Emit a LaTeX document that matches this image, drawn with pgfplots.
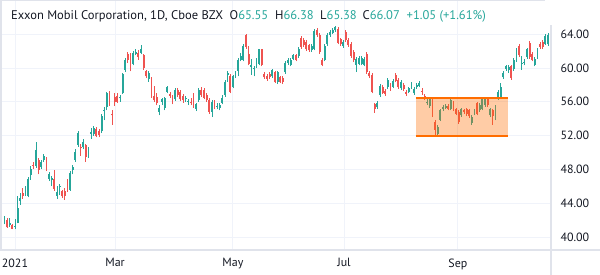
\documentclass[border=0pt]{standalone}
\usepackage{pgfplots}
\usepackage{pgfplotstable}
\pgfplotsset{compat=1.18}
\usepackage{fontspec}
\setmainfont{PT Sans}
\definecolor{upc}{HTML}{26A69A}
\definecolor{dnc}{HTML}{EF5350}
\definecolor{gridc}{HTML}{F0F3FA}
\definecolor{framec}{HTML}{E0E3EB}
\definecolor{txt}{HTML}{131722}
\definecolor{rectc}{HTML}{FF6D00}
% up (green) candles: index open high low close
\pgfplotstableread{
i o h l c
-4 41.6 42.5 41.5 41.8
-2 41.4 42.3 41.2 41.6
0 41.2 42.1 40.9 41.35
1 41.7 44.8 41.6 43.4
2 44.3 45.2 43.8 44.6
4 45.1 46.0 44.8 45.4
5 44.9 47.1 44.7 46.9
6 47.3 48.4 46.8 48.0
8 48.4 51.2 48.2 50.3
10 48.3 49.1 48.0 48.9
11 49.1 49.8 48.9 49.6
13 46.9 47.7 46.6 47.5
14 46.8 47.2 46.0 46.95
16 44.9 46.0 44.5 45.3
17 45.9 46.3 45.0 46.05
21 45.6 47.8 45.5 47.6
22 47.9 48.5 47.4 48.3
23 49.1 50.4 48.9 50.0
24 50.9 52.5 50.7 52.3
26 50.6 51.6 50.4 51.2
28 49.5 50.7 49.4 50.5
29 52.2 52.9 51.6 52.4
30 52.2 53.1 52.0 52.9
33 52.5 54.5 52.3 54.3
34 54.9 55.4 53.8 55.05
35 55.4 57.2 55.0 57.0
40 56.4 56.8 56.0 56.55
41 57.1 59.4 56.9 59.3
42 59.8 61.2 59.5 61.0
45 60.5 62.0 60.3 61.8
46 61.7 62.3 61.5 61.9
48 61.8 62.7 61.6 62.3
51 58.7 59.6 58.4 59.4
55 54.8 55.6 54.4 55.3
56 56.0 56.5 55.6 56.3
57 55.3 56.6 55.0 56.4
58 57.2 57.9 57.0 57.7
61 56.3 57.6 56.1 57.4
65 56.3 56.7 56.0 56.5
66 55.95 56.3 55.6 56.05
69 55.2 55.9 54.9 55.7
70 56.2 57.6 56.0 57.4
75 54.8 56.2 54.2 56.0
77 55.45 55.9 55.1 55.55
78 55.3 55.9 55.0 55.6
79 55.9 56.8 55.7 56.5
80 56.8 58.6 56.6 58.4
81 59.2 59.6 58.4 59.4
83 57.8 59.2 57.6 59.0
84 59.0 59.7 58.8 59.3
85 59.7 61.2 59.0 61.0
86 61.0 61.8 60.8 61.4
87 61.0 62.8 60.8 62.6
90 60.1 61.1 59.2 60.3
91 59.85 60.2 59.0 59.95
92 60.2 61.2 60.0 60.9
93 60.5 62.3 60.3 62.2
98 59.0 59.9 58.8 59.8
100 58.3 59.7 58.1 59.5
103 59.5 60.8 59.3 60.6
104 60.6 61.2 60.4 61.0
105 60.4 61.2 60.2 61.0
106 61.1 61.7 60.9 61.5
108 61.4 62.5 61.2 62.3
113 62.1 62.8 61.9 62.6
114 62.3 64.6 62.1 64.4
118 61.0 62.8 60.8 62.6
119 62.8 64.1 62.6 63.9
120 63.9 64.5 63.7 64.3
121 64.2 64.7 64.0 64.5
122 64.5 65.0 64.3 64.8
125 62.6 63.3 62.4 63.1
130 60.4 61.3 59.5 61.1
131 60.5 61.4 60.3 61.2
132 60.5 61.4 60.3 61.2
133 60.4 61.3 60.2 61.1
138 55.4 56.1 55.2 55.9
139 56.8 58.1 56.6 57.9
142 57.7 58.8 57.5 58.6
144 57.8 58.7 57.6 58.5
147 57.6 58.6 57.4 58.4
150 57.2 57.8 57.0 57.6
151 57.7 58.4 57.5 58.1
152 57.0 57.7 56.8 57.5
153 57.7 58.2 57.5 58.0
154 57.9 58.5 57.7 58.2
157 55.8 56.5 55.6 56.0
158 55.5 56.6 55.3 56.3
161 52.2 53.2 52.0 53.0
162 53.9 55.2 53.7 55.0
163 55.1 55.6 54.9 55.4
164 55.3 55.7 55.1 55.5
166 55.2 56.4 55.0 56.2
170 54.4 55.3 54.2 55.1
174 53.5 54.4 53.3 54.2
175 54.6 55.2 54.4 55.0
177 55.0 55.8 54.8 55.6
178 55.2 56.6 55.0 56.4
179 55.6 56.5 55.4 56.3
181 54.4 55.3 54.2 55.1
183 54.2 55.6 53.8 55.4
184 56.4 57.4 56.2 57.2
185 56.6 58.2 56.4 57.8
186 58.9 59.6 58.7 59.4
187 59.9 60.4 59.7 60.2
188 59.8 60.4 59.4 60.1
190 59.9 61.2 59.7 61.0
191 60.9 62.4 60.7 62.2
193 60.55 61.4 59.8 60.65
194 60.65 61.1 60.3 60.75
195 61.3 62.4 61.1 62.2
198 60.4 61.3 60.2 61.1
199 61.3 62.4 61.1 62.2
202 62.9 64.0 62.7 63.8
203 62.8 64.1 62.6 63.9
}\upcandles
% down (red) candles: index open high low close
\pgfplotstableread{
i o h l c
-3 42.0 42.3 41.1 41.15
-1 41.4 41.5 40.9 41.0
3 45.2 45.8 44.5 44.9
7 48.5 48.9 48.0 48.4
9 49.1 49.3 47.4 47.9
12 49.4 49.5 47.8 47.9
15 46.9 47.9 45.5 45.7
18 45.5 45.6 44.6 44.8
19 45.5 45.8 44.4 44.8
20 45.8 46.9 45.3 45.5
25 50.7 51.0 49.6 50.6
27 50.9 51.0 48.9 49.5
31 52.8 53.0 51.8 52.0
32 52.6 52.8 51.8 52.1
36 57.1 57.3 55.5 55.7
37 54.5 55.0 53.3 54.4
38 56.6 57.0 55.5 56.0
39 56.7 57.0 55.9 56.0
43 61.7 61.9 60.6 60.9
44 61.7 61.8 59.6 60.0
47 61.8 62.1 61.0 61.3
49 61.5 61.7 59.8 60.0
50 59.6 59.8 58.8 59.0
52 58.7 58.9 56.5 56.7
53 56.7 57.9 56.0 56.2
54 56.6 57.0 55.6 55.9
59 56.9 57.2 56.4 56.7
60 56.5 56.8 55.7 55.9
62 57.4 57.6 56.6 56.8
63 57.2 57.4 56.1 56.3
64 56.7 56.9 55.9 56.2
67 56.0 56.4 55.6 55.8
68 56.8 57.0 55.3 55.5
71 57.4 57.7 56.6 56.8
72 57.4 57.6 56.3 56.5
73 56.8 57.0 56.0 56.2
74 56.2 56.4 54.6 54.8
76 56.0 56.2 55.1 55.3
82 59.0 59.3 57.0 57.2
88 63.9 64.0 62.3 62.5
89 61.7 62.6 60.3 60.5
94 62.2 62.3 60.2 60.4
95 59.3 59.5 58.7 58.9
96 59.0 59.3 58.5 58.7
97 59.3 59.5 58.7 58.9
99 59.5 59.7 58.2 58.3
101 58.9 59.1 58.2 58.3
102 58.8 59.0 58.1 58.3
107 61.5 61.7 60.8 61.0
109 63.5 63.8 62.3 62.5
110 63.3 63.5 62.5 62.7
111 63.1 63.3 62.0 62.2
112 62.7 62.9 61.9 62.1
115 64.5 64.7 63.7 63.9
116 63.9 64.1 61.7 61.9
117 61.0 61.2 60.2 60.4
123 64.6 64.8 62.8 63.0
124 63.4 63.6 62.6 62.8
126 64.3 64.5 63.1 63.3
127 63.3 63.5 62.5 62.7
128 62.9 63.1 61.2 61.4
129 61.9 62.1 60.7 60.9
134 61.7 61.9 59.3 59.5
135 59.4 59.6 58.8 59.0
136 59.2 59.4 57.0 57.2
137 55.7 55.9 54.7 55.1
140 57.8 58.0 56.9 57.1
141 57.3 57.5 56.7 56.9
143 58.0 58.2 57.3 57.5
145 59.2 59.4 58.3 58.5
146 58.6 58.8 57.5 57.7
148 58.0 58.2 57.3 57.5
149 57.2 57.4 56.7 56.9
155 57.25 57.6 56.8 57.15
156 56.7 56.9 56.2 56.4
159 56.1 56.3 54.2 54.4
160 53.6 53.8 52.0 52.7
165 55.5 55.7 55.0 55.2
167 55.9 56.1 54.9 55.1
168 55.1 55.3 54.4 54.6
169 54.8 55.0 53.4 53.6
171 55.0 55.2 54.6 54.8
172 55.1 55.3 54.3 54.5
173 55.0 55.2 54.1 54.3
176 55.8 56.0 54.4 54.6
180 56.3 56.6 55.4 55.6
182 55.0 55.2 53.3 54.3
189 60.2 60.4 58.6 58.8
192 62.6 62.8 61.3 61.5
196 63.0 63.2 61.1 61.3
197 61.7 61.9 60.8 61.0
200 62.9 63.1 62.3 62.5
201 63.1 63.3 62.3 62.5
204 63.4 63.6 62.5 62.7
}\dncandles
\begin{document}
\begin{tikzpicture}
\path[use as bounding box] (0,0) rectangle (600bp,275bp);
\begin{axis}[
  at={(0,25bp)}, anchor=south west,
  scale only axis, width=551bp, height=250bp,
  xmin=-5.71, xmax=204.15, ymin=38.46, ymax=68.05,
  axis line style={draw=none},
  major tick length=0pt,
  xtick={0,38.1,83,125.3,168.7},
  xticklabels={2021,Mar,May,Jul,Sep},
  ytick={40,44,48,52,56,60,64},
  yticklabels={40.00,44.00,48.00,52.00,56.00,60.00,64.00},
  yticklabel pos=right,
  grid=major,
  major grid style={draw=gridc, line width=0.9bp},
  tick label style={font=\fontsize{12}{14}\selectfont, text=txt},
  xticklabel style={yshift=-5bp},
  yticklabel style={xshift=6bp},
  clip=true,
  candle/.style={draw=none, mark=none, forget plot,
    error bars/.cd, y dir=plus, y explicit, error mark=none},
]
% wicks
\addplot[candle, error bar style={draw=upc, line width=0.8bp}]
  table[x=i, y=l, y error expr=\thisrow{h}-\thisrow{l}] {\upcandles};
\addplot[candle, error bar style={draw=dnc, line width=0.8bp}]
  table[x=i, y=l, y error expr=\thisrow{h}-\thisrow{l}] {\dncandles};
% bodies
\addplot[candle, error bar style={draw=upc, line width=1.9bp}]
  table[x=i, y=o, y error expr=\thisrow{c}-\thisrow{o}] {\upcandles};
\addplot[candle, error bar style={draw=dnc, line width=1.9bp}]
  table[x=i, y=c, y error expr=\thisrow{o}-\thisrow{c}] {\dncandles};
% rectangle annotation
\addplot[draw=none, fill=rectc, fill opacity=0.35, forget plot]
  coordinates {(152.7,52.0) (187.6,52.0) (187.6,56.4) (152.7,56.4)} -- cycle;
\addplot[rectc, line width=2bp, forget plot] coordinates {(152.7,56.4) (187.6,56.4)};
\addplot[rectc, line width=2bp, forget plot] coordinates {(152.7,52.0) (187.6,52.0)};
\end{axis}
% frame
\draw[framec, line width=1.2bp] (0,25bp) -- (600bp,25bp);
\draw[framec, line width=1.2bp] (551bp,0) -- (551bp,250bp);
\draw[framec, line width=2bp] (1bp,25bp) -- (1bp,275bp);
\draw[framec, line width=1.5bp] (0,274.25bp) -- (545bp,274.25bp);
% legend line
\begin{scope}[font=\fontsize{12.6}{14}\selectfont]
\node[anchor=base west, inner sep=0, text=txt] at (11bp,255.5bp) {Exxon Mobil Corporation, 1D, Cboe BZX};
\node[anchor=base west, inner sep=0, text=txt] at (229.5bp,255.5bp) {O\textcolor{upc}{65.55}};
\node[anchor=base west, inner sep=0, text=txt] at (275bp,255.5bp) {H\textcolor{upc}{66.38}};
\node[anchor=base west, inner sep=0, text=txt] at (320bp,255.5bp) {L\textcolor{upc}{65.38}};
\node[anchor=base west, inner sep=0, text=txt] at (362.5bp,255.5bp) {C\textcolor{upc}{66.07}};
\node[anchor=base west, inner sep=0, text=upc] at (406.5bp,255.5bp) {+1.05 (+1.61\%)};
\end{scope}
\end{tikzpicture}
\end{document}
